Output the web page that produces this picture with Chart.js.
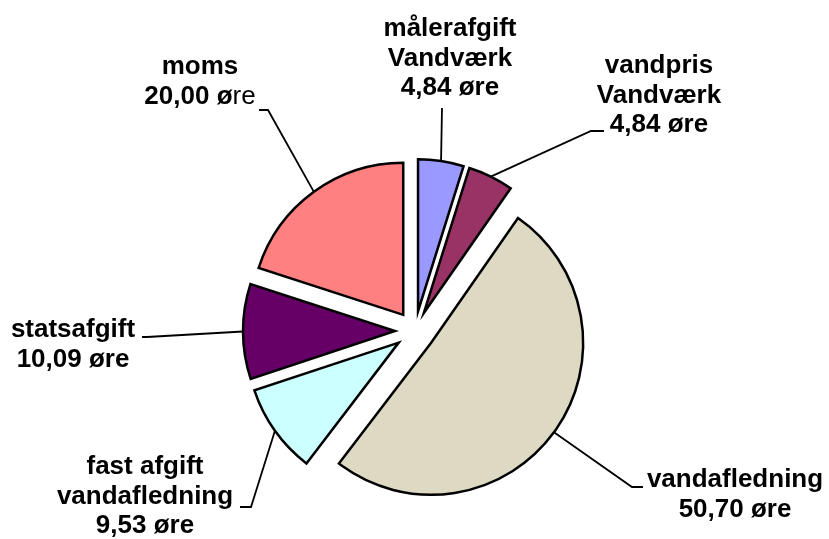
<!DOCTYPE html>
<html lang="da">
<head>
<meta charset="utf-8">
<title>Vandpris fordeling</title>
<script src="https://cdn.jsdelivr.net/npm/chart.js@4.4.1/dist/chart.umd.min.js"></script>
<style>
    html, body { margin: 0; padding: 0; background: #ffffff; }
    #wrap { width: 829px; height: 539px; }
</style>
</head>
<body>
<div id="wrap"><canvas id="pieChart" width="829" height="539"></canvas></div>
<script>
const sliceNames = [
    ["målerafgift", "Vandværk"],
    ["vandpris", "Vandværk"],
    ["vandafledning"],
    ["fast afgift", "vandafledning"],
    ["statsafgift"],
    ["moms"]
];
const sliceValues = [4.84, 4.84, 50.70, 9.53, 10.09, 20.00];
const valueUnit = "øre";

const sliceColors = ["#9999ff", "#993366", "#ddd9c3", "#ccffff", "#660066", "#ff8080"];

// where each label sits and how its leader line bends (canvas px)
const labelLayout = [
    { x: 450, y: 36, elbow: [442, 108], end: [442, 108] },
    { x: 659, y: 73, elbow: [591, 131], end: [604, 131] },
    { x: 735, y: 487, elbow: [632, 487], end: [643, 487] },
    { x: 145, y: 474, elbow: [251, 507], end: [240, 507] },
    { x: 73, y: 337, elbow: [147, 337], end: [142, 337] },
    { x: 200, y: 74, elbow: [268, 110], end: [259, 110], lightTail: 2 }
];

const explodeBy = 20;
const fontFamily = '"Liberation Sans", Arial, sans-serif';
const fontSize = 26;
const lineHeight = 29.5;

function formatValue(value) {
    return value.toFixed(2).replace(".", ",") + " " + valueUnit;
}

// pull every slice out from the centre along its mid angle
const explodePlugin = {
    id: "explode",
    afterDatasetsUpdate(chart) {
        const area = chart.chartArea;
        const cx = (area.left + area.right) / 2;
        const cy = (area.top + area.bottom) / 2;
        chart.getDatasetMeta(0).data.forEach((arc) => {
            const mid = (arc.startAngle + arc.endAngle) / 2;
            arc.x = cx + Math.cos(mid) * explodeBy;
            arc.y = cy + Math.sin(mid) * explodeBy;
        });
    }
};

function drawLine(ctx, text, x, y, lightTail) {
    const bold = `bold ${fontSize}px ${fontFamily}`;
    const plain = `${fontSize}px ${fontFamily}`;
    if (!lightTail) {
        ctx.font = bold;
        ctx.textAlign = "center";
        ctx.fillText(text, x, y);
        return;
    }
    const head = text.slice(0, text.length - lightTail);
    const tail = text.slice(text.length - lightTail);
    ctx.font = bold;
    const headWidth = ctx.measureText(head).width;
    ctx.font = plain;
    const tailWidth = ctx.measureText(tail).width;
    const left = x - (headWidth + tailWidth) / 2;
    ctx.textAlign = "left";
    ctx.font = bold;
    ctx.fillText(head, left, y);
    ctx.font = plain;
    ctx.fillText(tail, left + headWidth, y);
}

const labelPlugin = {
    id: "sliceLabels",
    afterDraw(chart) {
        const ctx = chart.ctx;
        const arcs = chart.getDatasetMeta(0).data;
        ctx.save();
        ctx.strokeStyle = "#000000";
        ctx.fillStyle = "#000000";
        ctx.lineWidth = 1.8;
        ctx.textBaseline = "alphabetic";

        arcs.forEach((arc, index) => {
            const layout = labelLayout[index];
            const mid = (arc.startAngle + arc.endAngle) / 2;
            const sx = arc.x + Math.cos(mid) * arc.outerRadius;
            const sy = arc.y + Math.sin(mid) * arc.outerRadius;

            ctx.beginPath();
            ctx.moveTo(sx, sy);
            ctx.lineTo(layout.elbow[0], layout.elbow[1]);
            ctx.lineTo(layout.end[0], layout.end[1]);
            ctx.stroke();

            const lines = sliceNames[index].concat([formatValue(sliceValues[index])]);
            lines.forEach((line, i) => {
                const isLast = i === lines.length - 1;
                drawLine(ctx, line, layout.x, layout.y + i * lineHeight, isLast ? layout.lightTail : 0);
            });
        });
        ctx.restore();
    }
};

function initChart() {
    const context = document.getElementById("pieChart").getContext("2d");
    return new Chart(context, {
        type: "pie",
        data: {
            labels: sliceNames.map((lines) => lines.join(" ")),
            datasets: [{
                data: sliceValues,
                backgroundColor: sliceColors,
                borderColor: "#000000",
                borderWidth: 2.5,
                borderJoinStyle: "miter"
            }]
        },
        options: {
            responsive: false,
            animation: false,
            events: [],
            radius: 152,
            layout: {
                padding: { left: 1, right: 0, top: 123, bottom: 0 }
            },
            plugins: {
                legend: { display: false },
                tooltip: { enabled: false }
            }
        },
        plugins: [explodePlugin, labelPlugin]
    });
}

document.addEventListener("DOMContentLoaded", initChart);
</script>
</body>
</html>
